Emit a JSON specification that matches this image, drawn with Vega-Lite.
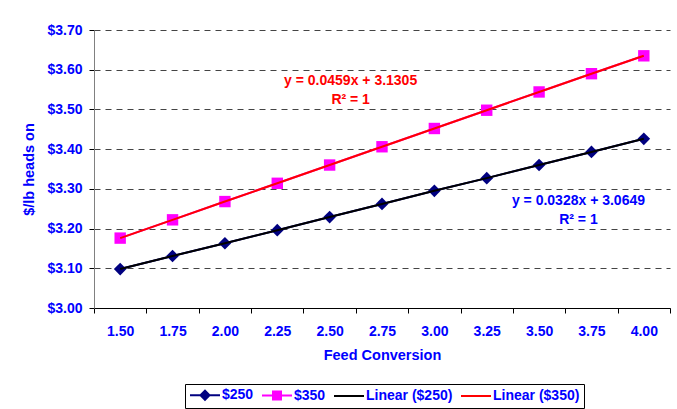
{
  "$schema": "https://vega.github.io/schema/vega-lite/v6.json",
  "width": 576,
  "height": 278,
  "padding": {"left": 21, "top": 23, "right": 5, "bottom": 5},
  "background": "white",
  "config": {
    "font": "Liberation Sans",
    "view": {"stroke": null},
    "axis": {
      "labelFont": "Liberation Sans",
      "labelFontWeight": "bold",
      "labelFontSize": 14,
      "labelColor": "#0000FF",
      "titleFont": "Liberation Sans",
      "titleFontWeight": "bold",
      "titleFontSize": 14.5,
      "titleColor": "#0000FF",
      "tickColor": "#000000",
      "tickSize": 5
    }
  },
  "data": {
    "values": [
      {"fc": "1.50", "p250": 3.098, "p350": 3.176},
      {"fc": "1.75", "p250": 3.131, "p350": 3.222},
      {"fc": "2.00", "p250": 3.163, "p350": 3.268},
      {"fc": "2.25", "p250": 3.196, "p350": 3.314},
      {"fc": "2.50", "p250": 3.229, "p350": 3.360},
      {"fc": "2.75", "p250": 3.262, "p350": 3.406},
      {"fc": "3.00", "p250": 3.295, "p350": 3.452},
      {"fc": "3.25", "p250": 3.327, "p350": 3.498},
      {"fc": "3.50", "p250": 3.360, "p350": 3.544},
      {"fc": "3.75", "p250": 3.393, "p350": 3.590},
      {"fc": "4.00", "p250": 3.426, "p350": 3.635}
    ]
  },
  "encoding": {
    "x": {
      "field": "fc",
      "type": "ordinal",
      "sort": null,
      "title": "Feed Conversion",
      "scale": {"type": "band", "paddingInner": 0, "paddingOuter": 0},
      "axis": {
        "labelAngle": 0,
        "tickBand": "extent",
        "domainColor": "#000000",
        "labelPadding": 11,
        "titlePadding": 10
      }
    }
  },
  "layer": [
    {
      "mark": {"type": "line", "strokeWidth": 2},
      "encoding": {
        "y": {
          "field": "p250",
          "type": "quantitative",
          "title": "$/lb heads on",
          "scale": {"domain": [3.0, 3.7], "nice": false, "zero": false},
          "axis": {
            "values": [3.0, 3.1, 3.2, 3.3, 3.4, 3.5, 3.6, 3.7],
            "tickCount": 20,
            "labelOverlap": false,
            "format": "$.2f",
            "grid": true,
            "gridColor": "#444444",
            "gridDash": [6, 5],
            "domainColor": "#808080",
            "labelPadding": 7,
            "titlePadding": 10
          }
        },
        "color": {
          "datum": "$250",
          "scale": {
            "domain": ["$250", "$350", "Linear ($250)", "Linear ($350)"],
            "range": ["#000080", "#FF00FF", "#000000", "#FF0000"]
          },
          "legend": {
            "title": null,
            "orient": "none",
            "legendX": 91,
            "legendY": 354,
            "direction": "horizontal",
            "strokeColor": "#000000",
            "fillColor": "white",
            "padding": 4,
            "columnPadding": 4,
            "symbolSize": 100,
            "symbolOffset": 9,
            "labelOffset": 10,
            "labelFont": "Liberation Sans",
            "labelFontWeight": "bold",
            "labelFontSize": 14,
            "labelColor": "#0000FF",
            "encode": {
              "symbols": {
                "update": {
                  "shape": {"signal": "datum.value === '$250' ? 'M-3,0H3M-0.9,0L0,-0.9L0.9,0L0,0.9Z' : datum.value === '$350' ? 'M-3,0H3M-0.8,-0.8H0.8V0.8H-0.8Z' : 'M-3,0H3'"},
                  "fill": {"signal": "datum.value === '$250' ? '#000080' : datum.value === '$350' ? '#FF00FF' : 'transparent'"},
                  "stroke": {"signal": "datum.value === '$250' ? '#000080' : datum.value === '$350' ? '#FF00FF' : datum.value === 'Linear ($250)' ? '#000000' : '#FF0000'"},
                  "strokeWidth": {"value": 2},
                  "opacity": {"value": 1}
                }
              }
            }
          }
        }
      }
    },
    {
      "mark": {"type": "line", "strokeWidth": 2},
      "encoding": {
        "y": {"field": "p350", "type": "quantitative"},
        "color": {"datum": "$350"}
      }
    },
    {
      "mark": {"type": "point", "shape": "diamond", "filled": true, "size": 160, "opacity": 1},
      "encoding": {
        "y": {"field": "p250", "type": "quantitative"},
        "color": {"datum": "$250"}
      }
    },
    {
      "mark": {"type": "point", "shape": "square", "filled": true, "size": 130, "opacity": 1},
      "encoding": {
        "y": {"field": "p350", "type": "quantitative"},
        "color": {"datum": "$350"}
      }
    },
    {
      "mark": {"type": "line", "strokeWidth": 2},
      "encoding": {
        "y": {"field": "p250", "type": "quantitative"},
        "color": {"datum": "Linear ($250)"}
      }
    },
    {
      "mark": {"type": "line", "strokeWidth": 2},
      "encoding": {
        "y": {"field": "p350", "type": "quantitative"},
        "color": {"datum": "Linear ($350)"}
      }
    },
    {
      "data": {"values": [{"t": "y = 0.0459x + 3.1305"}]},
      "mark": {"type": "text", "font": "Liberation Sans", "fontWeight": "bold", "fontSize": 14, "color": "#FF0000", "dx": 21, "baseline": "middle"},
      "encoding": {
        "x": {"datum": "2.50"},
        "y": {"datum": 3.5715},
        "text": {"field": "t"}
      }
    },
    {
      "data": {"values": [{"t": "R² = 1"}]},
      "mark": {"type": "text", "font": "Liberation Sans", "fontWeight": "bold", "fontSize": 14, "color": "#FF0000", "dx": 21, "baseline": "middle"},
      "encoding": {
        "x": {"datum": "2.50"},
        "y": {"datum": 3.525},
        "text": {"field": "t"}
      }
    },
    {
      "data": {"values": [{"t": "y = 0.0328x + 3.0649"}]},
      "mark": {"type": "text", "font": "Liberation Sans", "fontWeight": "bold", "fontSize": 14, "color": "#0000FF", "dx": -13, "baseline": "middle"},
      "encoding": {
        "x": {"datum": "3.75"},
        "y": {"datum": 3.2693},
        "text": {"field": "t"}
      }
    },
    {
      "data": {"values": [{"t": "R² = 1"}]},
      "mark": {"type": "text", "font": "Liberation Sans", "fontWeight": "bold", "fontSize": 14, "color": "#0000FF", "dx": -13, "baseline": "middle"},
      "encoding": {
        "x": {"datum": "3.75"},
        "y": {"datum": 3.2214},
        "text": {"field": "t"}
      }
    }
  ]
}
